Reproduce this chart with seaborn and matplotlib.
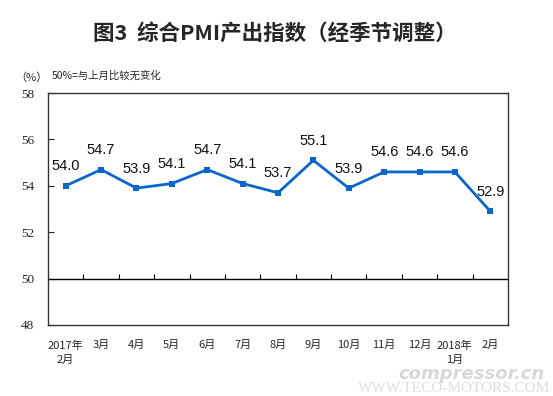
import matplotlib
matplotlib.use("Agg")
import matplotlib.pyplot as plt
import seaborn as sns
import pandas as pd

# data
months = ["2017年\n2月", "3月", "4月", "5月", "6月", "7月", "8月", "9月",
          "10月", "11月", "12月", "2018年\n1月", "2月"]
pmi_output = [54.0, 54.7, 53.9, 54.1, 54.7, 54.1, 53.7, 55.1, 53.9, 54.6, 54.6, 54.6, 52.9]
y_ticks = [48, 50, 52, 54, 56, 58]

sns.set_style("white")
plt.rcParams['font.family'] = ['Noto Sans CJK SC', 'DejaVu Sans']

df = pd.DataFrame({"idx": range(len(months)), "value": pmi_output})

fig = plt.figure(figsize=(5.53, 3.96), dpi=100)
ax = fig.add_axes([0.0868, 0.1793, 0.8318, 0.5857])

sns.lineplot(data=df, x="idx", y="value", ax=ax, color="#0a66c8", linewidth=2,
             marker="s", markersize=5, markeredgewidth=0)

# value labels
for i, v in enumerate(pmi_output):
    ax.annotate(f"{v:.1f}", (i, v), xytext=(0, 9), textcoords="offset points",
                ha="center", va="bottom", fontsize=10.5, color="#111111",
                family="Liberation Sans")

# 50 reference line with upward ticks at category boundaries
ax.axhline(50, color="black", linewidth=1)
ax.vlines([i + 0.5 for i in range(len(months) - 1)], 50, 50.18, color="black", linewidth=0.8)

ax.set_xlim(-0.5, len(months) - 0.5)
ax.set_ylim(48, 58)
ax.set_yticks(y_ticks)
ax.set_yticklabels([str(t) for t in y_ticks], family="Liberation Serif", fontsize=9.5)
ax.tick_params(axis="y", direction="in", length=4, width=0.8, pad=10, left=True)
ax.set_xticks(range(len(months)))
ax.set_xticklabels(months, fontsize=8, linespacing=1.5)
ax.tick_params(axis="x", length=0, pad=11)
ax.set_xlabel("")
ax.set_ylabel("")

for s in ax.spines.values():
    s.set_visible(True)
    s.set_color("#333333")
    s.set_linewidth(1)

fig.text(0.497, 0.915, "图3  综合PMI产出指数（经季节调整）", ha="center", va="center",
         fontsize=15.5, fontweight="semibold")
fig.text(0.057, 0.805, "（%）", ha="center", va="center", fontsize=8)
fig.text(0.094, 0.808, "50%=与上月比较无变化", ha="left", va="center", fontsize=7.5)

# watermark
fig.text(0.985, 0.055, "compressor.cn", ha="right", va="center", fontsize=13,
         fontweight="bold", style="italic", color="#d8d8d8", family="DejaVu Sans")
fig.text(0.995, 0.02, "WWW.TECO-MOTORS.COM", ha="right", va="center", fontsize=11,
         color="#dddddd", family="Liberation Serif")

fig.savefig("out.png", dpi=100)
